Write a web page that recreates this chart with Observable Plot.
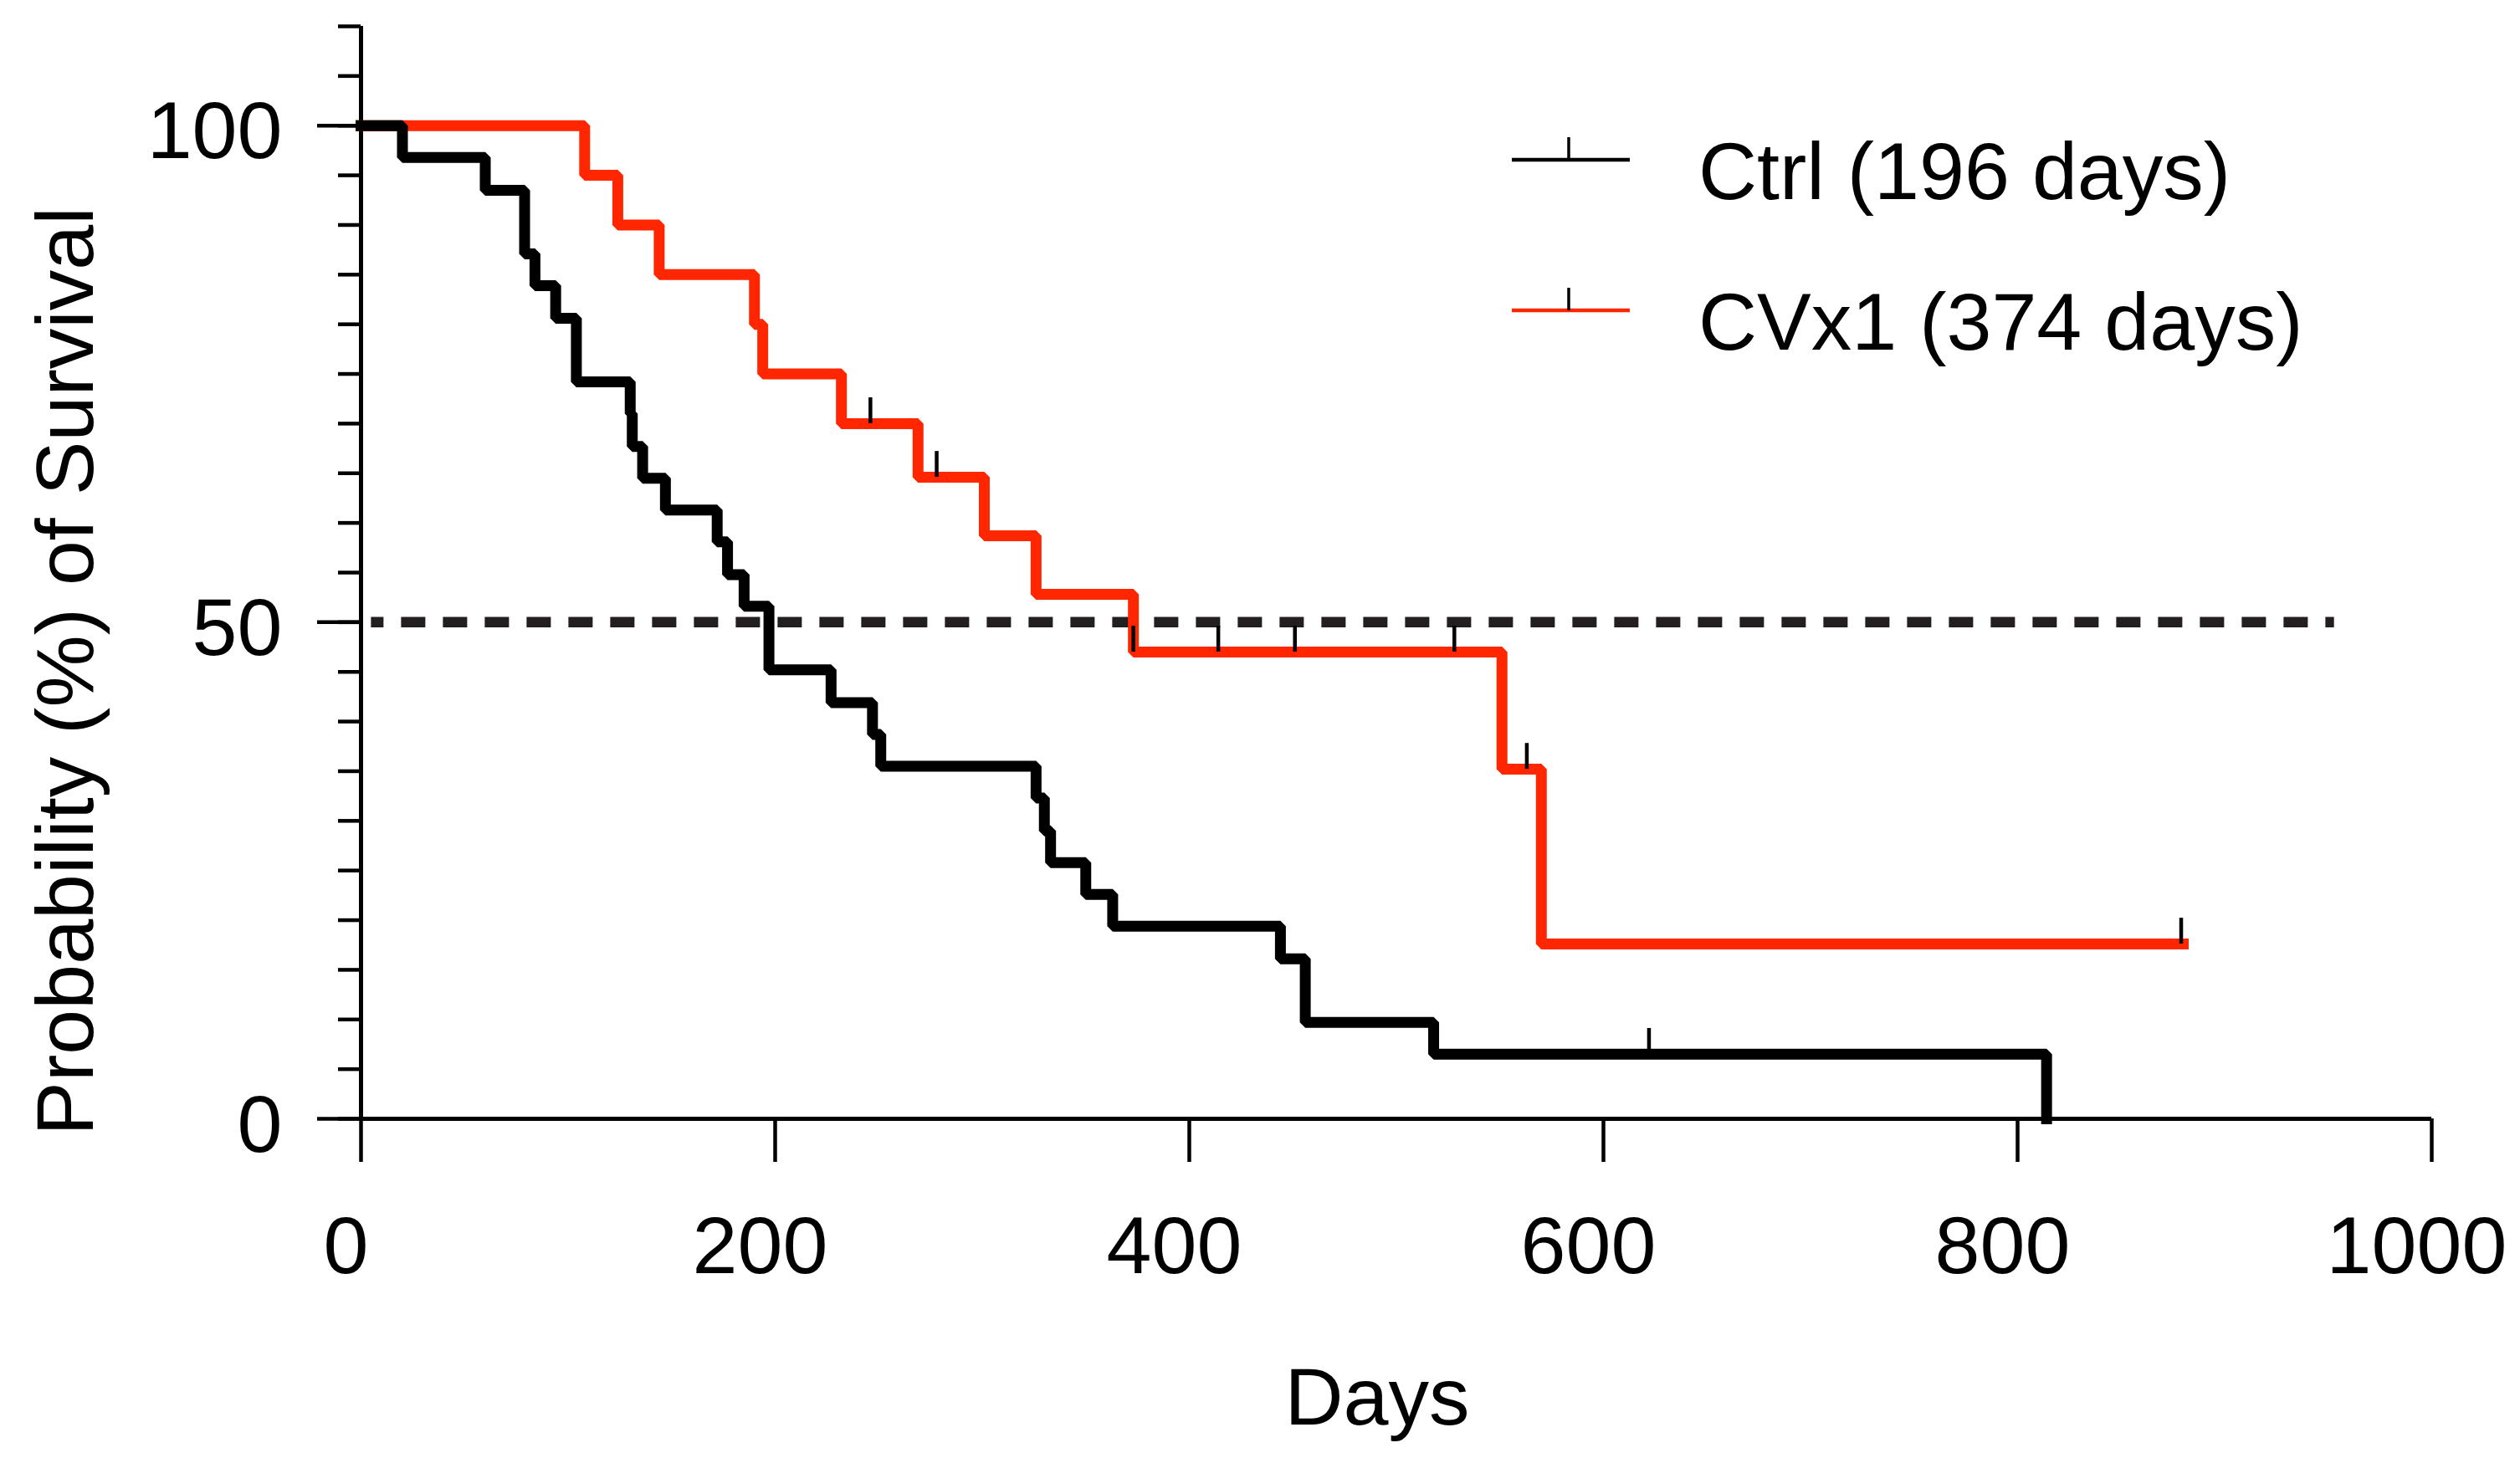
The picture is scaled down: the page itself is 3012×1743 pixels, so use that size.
<!DOCTYPE html>
<html><head><meta charset="utf-8">
<script src="https://cdn.jsdelivr.net/npm/d3@7"></script>
<script src="https://cdn.jsdelivr.net/npm/@observablehq/plot@0.6"></script>
<style>html,body{margin:0;padding:0;background:#fff;overflow:hidden}</style>
</head><body><div id="chart"></div>
<script>
// ---- data ----
const seriesNames = ["Ctrl (196 days)", "CVx1 (374 days)"];
const seriesColors = ["#000000", "#ff2600"];

const ctrlDays = [0, 20, 60, 79, 84, 94, 104, 130, 131, 136, 147, 172, 177, 185, 197, 227, 247, 251, 326, 330, 333, 350, 363, 444, 456, 518, 814];
const ctrlSurv = [100, 96.8, 93.5, 87.1, 83.9, 80.6, 74.2, 71.0, 67.7, 64.5, 61.3, 58.1, 54.8, 51.6, 45.2, 41.9, 38.7, 35.5, 32.3, 29.0, 25.8, 22.6, 19.4, 16.1, 9.7, 6.5, 0];
const ctrlCensorDays = [622];
const ctrlCensorSurv = [6.5];

const cvxDays = [0, 108, 124, 144, 190, 194, 232, 269, 301, 326, 373, 551, 570, 880];
const cvxSurv = [100, 95, 90, 85, 80, 75, 70, 64.6, 58.7, 52.8, 47.0, 35.2, 17.6, 17.6];
const cvxCensorDays = [246, 278, 373, 414, 451, 528, 563, 879];
const cvxCensorSurv = [70, 64.6, 47.0, 47.0, 47.0, 47.0, 35.2, 17.6];

const medianLevel = 50;
const medianLineDays = [5, 953];

const xTicks = [0, 200, 400, 600, 800, 1000];
const yTicks = [0, 50, 100];
const yMinorTicks = [0, 5, 10, 15, 20, 25, 30, 35, 40, 45, 50, 55, 60, 65, 70, 75, 80, 85, 90, 95, 100, 105, 110];
const xLabel = "Days";
const yLabel = "Probability (%) of Survival";

// ---- build tables ----
const rows = (days, surv) => days.map((d, i) => ({day: d, surv: surv[i]}));
const ctrlRows = rows(ctrlDays, ctrlSurv);
const cvxRows = rows(cvxDays, cvxSurv);
const censorRows = rows(ctrlCensorDays, ctrlCensorSurv).concat(rows(cvxCensorDays, cvxCensorSurv));

const FS = 97;
const plain = d => String(d);
const chart = Plot.plot({
  width: 3012, height: 1743,
  marginLeft: 431, marginRight: 106, marginTop: 31, marginBottom: 406,
  x: {domain: [0, 1000]},
  y: {domain: [0, 110]},
  style: {fontFamily: "'Liberation Sans', Arial, sans-serif", background: "#fff", color: "#000", overflow: "visible"},
  marks: [
    Plot.ruleX([0], {y1: 0, y2: 110, strokeWidth: 5}),
    Plot.ruleY([0], {x1: 0, x2: 1000, strokeWidth: 5}),
    Plot.axisY({ticks: yMinorTicks, tickSize: 27, strokeWidth: 4.5, tickFormat: () => "", label: null}),
    Plot.axisY({ticks: yTicks, tickSize: 52, strokeWidth: 4.5, tickFormat: () => "", label: null}),
    Plot.axisY({ticks: yTicks, tickSize: 0, tickPadding: 94, fontSize: FS, dy: 8, tickFormat: plain, label: null}),
    Plot.axisX({ticks: xTicks, tickSize: 52, strokeWidth: 4.5, tickFormat: () => "", label: null}),
    Plot.axisX({ticks: xTicks, tickSize: 0, tickPadding: 116, fontSize: FS, dx: -18, tickFormat: plain, label: null}),
    Plot.ruleY([medianLevel], {x1: medianLineDays[0], x2: medianLineDays[1], stroke: "#231f20", strokeWidth: 12.5, strokeDasharray: "29,21", strokeDashoffset: 14}),
    Plot.line(cvxRows, {x: "day", y: "surv", curve: "step-after", stroke: seriesColors[1], strokeWidth: 13, strokeLinejoin: "miter", strokeLinecap: "square"}),
    Plot.line(ctrlRows, {x: "day", y: "surv", curve: "step-after", stroke: seriesColors[0], strokeWidth: 13, strokeLinejoin: "miter", strokeLinecap: "square"}),
    Plot.ruleX(censorRows, {x: "day", y1: "surv", y2: d => d.surv + 2.6, stroke: "#000", strokeWidth: 4.5}),
    Plot.text([yLabel], {frameAnchor: "left", rotate: -90, dx: -321, dy: 118, fontSize: FS, lineAnchor: "bottom", textAnchor: "middle"}),
    Plot.text([xLabel], {frameAnchor: "bottom", dx: -23, dy: 365, fontSize: FS, lineAnchor: "bottom", textAnchor: "middle"})
  ]
});
document.getElementById("chart").appendChild(chart);

// ---- legend ----
const svg = d3.select(chart);
const lg = svg.append("g").attr("text-anchor", "start");
const rowY = [191, 371];
seriesNames.forEach((name, i) => {
  const g = lg.append("g");
  g.append("line").attr("x1", 1807).attr("x2", 1948).attr("y1", rowY[i]).attr("y2", rowY[i])
    .attr("stroke", seriesColors[i]).attr("stroke-width", 4.5);
  g.append("line").attr("x1", 1875).attr("x2", 1875).attr("y1", rowY[i] - 27).attr("y2", rowY[i])
    .attr("stroke", "#000").attr("stroke-width", 3.5);
  g.append("text").attr("x", 2030).attr("y", rowY[i] + 47).attr("font-size", FS).attr("fill", "#000")
    .attr("text-anchor", "start").text(name);
});
</script></body></html>
